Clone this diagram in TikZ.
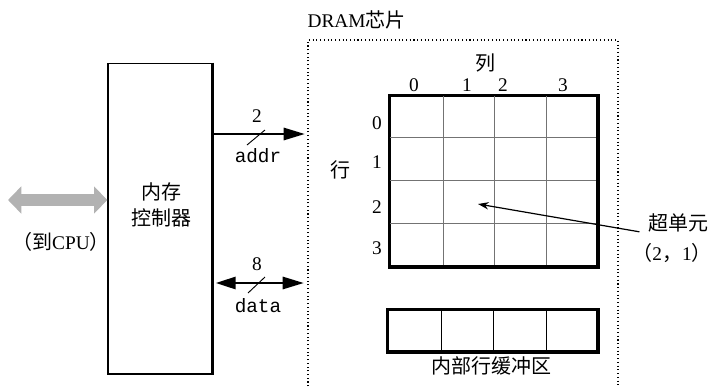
\documentclass[tikz,border=0pt]{standalone}
\usepackage{fontspec}
\setmainfont{Liberation Serif}
\setmonofont{Liberation Mono}
\newfontfamily\cjk{Noto Sans CJK SC}
\newcommand{\bigtext}{\fontsize{14.5}{17}\selectfont}
\newcommand{\zhtext}{\fontsize{15}{19.5}\selectfont\cjk}
\usetikzlibrary{arrows.meta,positioning,calc}

\begin{document}
\begin{tikzpicture}[
    x=0.75pt, y=-0.75pt,
    frame/.style={draw, line width=1.8pt},
    cellline/.style={draw=black!55, line width=0.5pt},
    bus/.style={line width=2.2pt, -{Triangle[length=16pt,width=9pt]}},
    dbus/.style={bus, {Triangle[length=15pt,width=9pt]}-{Triangle[length=16pt,width=9pt]}},
    cpubus/.style={line width=9pt, draw=black!30, {Triangle[length=10pt,width=20pt]}-{Triangle[length=10pt,width=20pt]}},
    tick/.style={line width=0.7pt},
    lbl/.style={inner sep=1pt, font=\bigtext},
    code/.style={inner sep=1pt, font=\bigtext\ttfamily},
    zh/.style={inner sep=1pt, font=\zhtext},
  ]
  \useasboundingbox (0,0) rectangle (714,386);

  % memory controller
  \node[draw, line width=1pt, minimum width=78pt, minimum height=233pt, inner sep=0pt] (ctrl) at (160,218.5) {};
  \draw[line width=2.2pt] (ctrl.north east) -- (ctrl.south east);
  \node[zh, align=center] (ctrltext) at (161,205) {内存\\控制器};

  % link to the CPU
  \coordinate (cpuL) at (8,200);
  \draw[cpubus] (cpuL) -- (ctrl.west |- cpuL);
  \node[lbl] (cpu) at (61,242) {{\zhtext （到}CPU{\zhtext ）}};

  % the DRAM chip
  \coordinate (chipSW) at (308,390);
  \coordinate (chipNE) at (618,40);
  \draw[dotted, line width=0.8pt] (chipSW) |- (chipNE) -- (chipNE |- chipSW);
  \node[lbl, anchor=west] (chip) at (306,20) {DRAM{\zhtext 芯片}};

  % supercell array
  \node[frame, minimum width=155.25pt, minimum height=127.5pt, inner sep=0pt, anchor=north west] (array) at (389,95) {};
  \foreach \x in {443,494,546}
    \draw[cellline] (\x,95) -- (\x,265);
  \foreach \y in {137,180,223}
    \draw[cellline] (389,\y) -- (596,\y);
  \draw[frame] (array.north west) rectangle (array.south east);
  \foreach \x/\t in {414/0,467/1,503/2,563/3}
    \node[lbl] (col\t) at (\x,85) {\t};
  \foreach \y/\t in {123/0,162/1,207/2,248/3}
    \node[lbl] (row\t) at (377,\y) {\t};
  \node[zh] (cols) at (485,63) {列};
  \node[zh] (rows) at (340,170) {行};

  % internal row buffer
  \node[frame, minimum width=156.75pt, minimum height=30.75pt, inner sep=0pt, anchor=north west] (buf) at (387,309) {};
  \foreach \x in {441,493,546}
    \draw[black, line width=0.5pt] (\x,309) -- (\x,350);
  \draw[frame] (buf.north west) rectangle (buf.south east);
  \node[zh] (buftext) at (491,366) {内部行缓冲区};

  % address bus
  \coordinate (addrA) at (ctrl.east |- 0,134);
  \coordinate (addrB) at (chipSW |- 0,134);
  \draw[bus] (addrA) -- ($(addrB)+(-3,0)$);
  \draw[tick] (247,145) -- (265,130);
  \node[lbl] (addrw) at (257,116) {2};
  \node[code] (addr) at (258,156) {addr};

  % data bus
  \coordinate (dataA) at (ctrl.east |- 0,283);
  \coordinate (dataB) at (chipSW |- 0,283);
  \draw[dbus] ($(dataA)+(3,0)$) -- ($(dataB)+(-4,0)$);
  \draw[tick] (248,293) -- (265,277);
  \node[lbl] (dataw) at (257,264) {8};
  \node[code] (data) at (258,306) {data};

  % supercell (2,1)
  \node[zh] (super) at (678,223) {超单元};
  \node[lbl] (superidx) at (672,253) {{\zhtext （}2{\zhtext ，}1{\zhtext ）}};
  \coordinate (cell21) at (478,204);
  \draw[line width=0.9pt, -{Stealth[length=8pt,width=5.5pt]}] ($(super.south west)+(-7,-2)$) -- (cell21);
\end{tikzpicture}
\end{document}
